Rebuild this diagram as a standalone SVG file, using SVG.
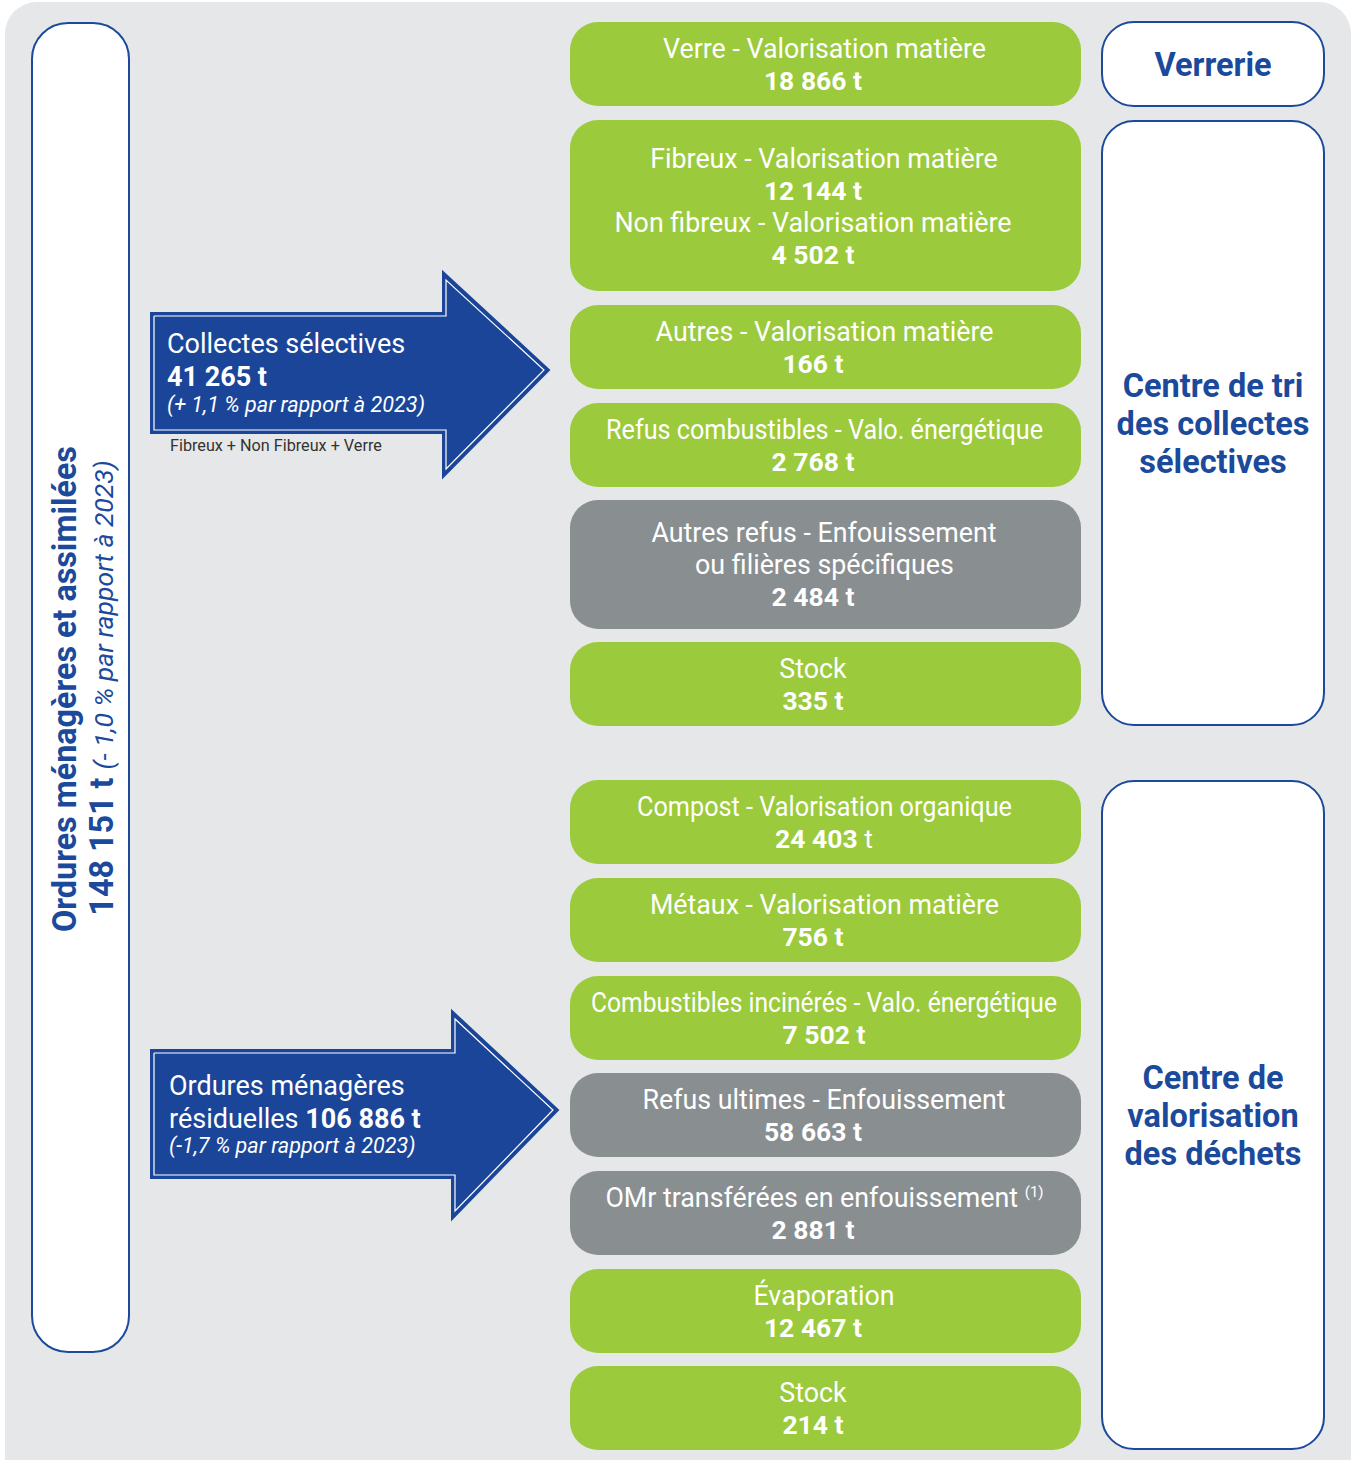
<svg xmlns="http://www.w3.org/2000/svg" width="1354" height="1460" viewBox="0 0 1354 1460">
<style>
.bg{fill:#e6e7e9}
.g{fill:#9bca3c}
.gr{fill:#898e91}
.t{font-family:Roboto,"Liberation Sans",sans-serif;font-size:26.8px;fill:#fff;text-anchor:middle}
.b{font-weight:bold}
.n{font-size:26.5px}
.site{fill:#fff;stroke:#1b4a9c;stroke-width:2}
.st{font-family:Roboto,"Liberation Sans",sans-serif;font-size:32.5px;font-weight:bold;fill:#1b4a9c;text-anchor:middle}
.arr{fill:#1b4599;stroke:#1b4599;stroke-width:2}
.arrin{fill:none;stroke:#fff;stroke-width:1.2}
.at{font-family:Roboto,"Liberation Sans",sans-serif;font-size:27px;fill:#fff}
.it{font-size:21.6px;font-style:italic}
</style>
<rect class="bg" x="5" y="2" width="1346" height="1490" rx="32"/>

<g id="total">
<rect class="site" x="32" y="23" width="97" height="1329" rx="36"/>
<text font-family="Roboto,'Liberation Sans',sans-serif" fill="#1b4a9c" text-anchor="middle" transform="translate(76,689) rotate(-90)" font-size="32.3" font-weight="bold">Ordures ménagères et assimilées</text>
<text font-family="Roboto,'Liberation Sans',sans-serif" fill="#1b4a9c" text-anchor="middle" transform="translate(113,688) rotate(-90)"><tspan font-size="32.3" font-weight="bold">148 151 t </tspan><tspan font-size="26.5" font-style="italic">(- 1,0 % par rapport à 2023)</tspan></text>
</g>

<g id="connectors">
<g id="arrow-collectes">
<polygon class="arr" points="151,313 443,313 443,272 549,370 443,477 443,433 151,433"/>
<polyline class="arrin" points="154,316 446,316 446,280 544,370 446,469 446,430 154,430 154,316"/>
<text class="at" x="167" y="353">Collectes sélectives</text>
<text class="at b" x="167" y="386">41 265 t</text>
<text class="at it" x="167" y="412">(+ 1,1 % par rapport à 2023)</text>
</g>
<text font-family="Roboto,'Liberation Sans',sans-serif" font-size="16.2" fill="#333" x="170" y="451">Fibreux + Non Fibreux + Verre</text>
<g id="arrow-omr">
<polygon class="arr" points="151,1050 452,1050 452,1011 558,1110 452,1219 452,1178 151,1178"/>
<polyline class="arrin" points="154,1053 455,1053 455,1019 553,1110 455,1211 455,1175 154,1175 154,1053"/>
<text class="at" x="169" y="1095">Ordures ménagères</text>
<text class="at" x="169" y="1128">résiduelles <tspan class="b">106 886 t</tspan></text>
<text class="at it" x="169" y="1153">(-1,7 % par rapport à 2023)</text>
</g>
</g>

<g id="verre">
<rect class="g" x="570" y="22" width="511" height="84" rx="28"/>
<text class="t" x="824.5" y="58">Verre - Valorisation matière</text>
<text class="t b n" x="813" y="90">18 866 t</text>
</g>
<g id="fibreux">
<rect class="g" x="570" y="120" width="511" height="171" rx="28"/>
<text class="t" x="824" y="168">Fibreux - Valorisation matière</text>
<text class="t b n" x="813" y="200">12 144 t</text>
<text class="t" x="813" y="232">Non fibreux - Valorisation matière</text>
<text class="t b n" x="813" y="264">4 502 t</text>
</g>
<g id="autres">
<rect class="g" x="570" y="305" width="511" height="84" rx="28"/>
<text class="t" x="824.5" y="341">Autres - Valorisation matière</text>
<text class="t b n" x="813" y="373">166 t</text>
</g>
<g id="refus-comb">
<rect class="g" x="570" y="403" width="511" height="84" rx="28"/>
<text class="t" x="824.5" y="439" textLength="437" lengthAdjust="spacingAndGlyphs">Refus combustibles - Valo. énergétique</text>
<text class="t b n" x="813" y="471">2 768 t</text>
</g>
<g id="autres-refus">
<rect class="gr" x="570" y="500" width="511" height="129" rx="28"/>
<text class="t" x="824" y="542">Autres refus - Enfouissement</text>
<text class="t" x="824.5" y="574">ou filières spécifiques</text>
<text class="t b n" x="813" y="606">2 484 t</text>
</g>
<g id="stock1">
<rect class="g" x="570" y="642" width="511" height="84" rx="28"/>
<text class="t" x="813" y="678">Stock</text>
<text class="t b n" x="813" y="710">335 t</text>
</g>
<g id="compost">
<rect class="g" x="570" y="780" width="511" height="84" rx="28"/>
<text class="t" x="824.5" y="816" textLength="375" lengthAdjust="spacingAndGlyphs">Compost - Valorisation organique</text>
<text class="t n" x="824" y="848"><tspan class="b">24 403</tspan> t</text>
</g>
<g id="metaux">
<rect class="g" x="570" y="878" width="511" height="84" rx="28"/>
<text class="t" x="824.5" y="914">Métaux - Valorisation matière</text>
<text class="t b n" x="813" y="946">756 t</text>
</g>
<g id="combustibles">
<rect class="g" x="570" y="976" width="511" height="84" rx="28"/>
<text class="t" x="824" y="1012" textLength="466" lengthAdjust="spacingAndGlyphs">Combustibles incinérés - Valo. énergétique</text>
<text class="t b n" x="824" y="1044">7 502 t</text>
</g>
<g id="refus-ultimes">
<rect class="gr" x="570" y="1073" width="511" height="84" rx="28"/>
<text class="t" x="824" y="1109">Refus ultimes - Enfouissement</text>
<text class="t b n" x="813" y="1141">58 663 t</text>
</g>
<g id="omr-transferees">
<rect class="gr" x="570" y="1171" width="511" height="84" rx="28"/>
<text class="t" x="824.5" y="1207">OMr transférées en enfouissement <tspan font-size="15" dy="-10">(1)</tspan></text>
<text class="t b n" x="813" y="1239">2 881 t</text>
</g>
<g id="evaporation">
<rect class="g" x="570" y="1269" width="511" height="84" rx="28"/>
<text class="t" x="824" y="1305">Évaporation</text>
<text class="t b n" x="813" y="1337">12 467 t</text>
</g>
<g id="stock2">
<rect class="g" x="570" y="1366" width="511" height="84" rx="28"/>
<text class="t" x="813" y="1402">Stock</text>
<text class="t b n" x="813" y="1434">214 t</text>
</g>

<g id="verrerie">
<rect class="site" x="1102" y="22" width="222" height="84" rx="32"/>
<text class="st" x="1213" y="76">Verrerie</text>
</g>
<g id="centre-tri">
<rect class="site" x="1102" y="121" width="222" height="604" rx="32"/>
<text class="st" x="1213" y="397">Centre de tri</text>
<text class="st" x="1213" y="435">des collectes</text>
<text class="st" x="1213" y="473">sélectives</text>
</g>
<g id="centre-valorisation">
<rect class="site" x="1102" y="781" width="222" height="668" rx="32"/>
<text class="st" x="1213" y="1089">Centre de</text>
<text class="st" x="1213" y="1127">valorisation</text>
<text class="st" x="1213" y="1165">des déchets</text>
</g>
</svg>
